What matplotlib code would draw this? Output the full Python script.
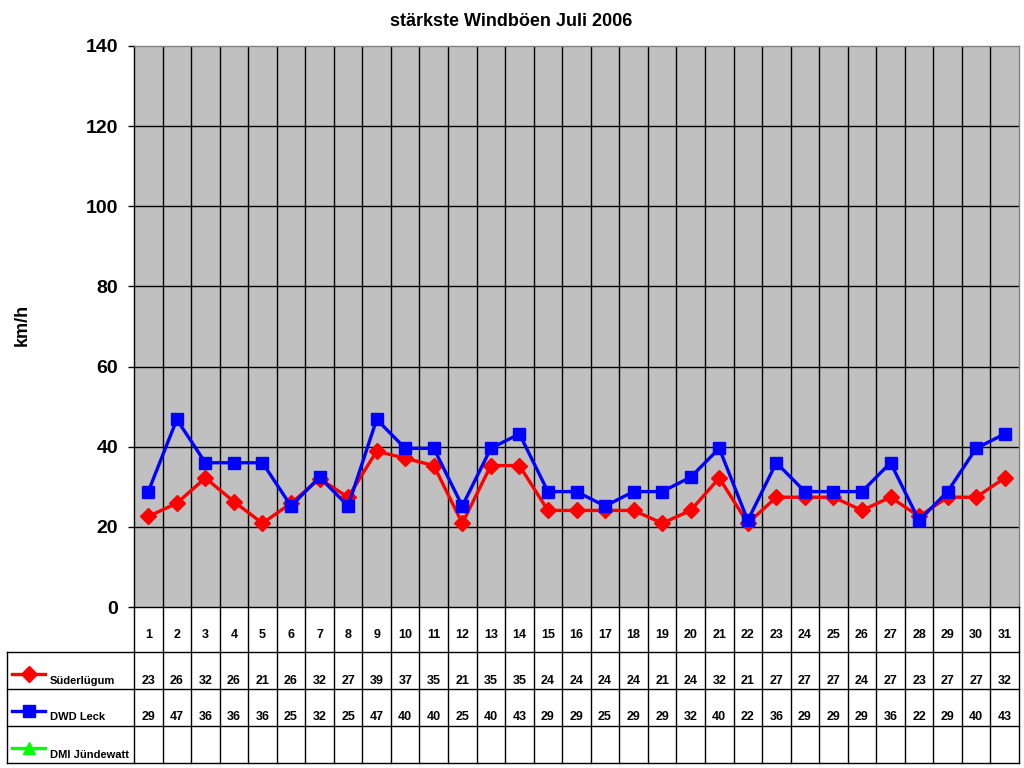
import numpy as np
import matplotlib
matplotlib.use("Agg")
import matplotlib.pyplot as plt
from matplotlib.lines import Line2D
from matplotlib.transforms import blended_transform_factory

plt.rcParams['font.family'] = ['Liberation Sans', 'DejaVu Sans']

title = "stärkste Windböen Juli 2006"
ylabel = "km/h"
days = list(range(1, 32))
series_names = ["Süderlügum", "DWD Leck", "DMI Jündewatt"]
series_colors = ["#FF0000", "#0000FF", "#00FF00"]
series_markers = ["D", "s", "^"]

suederluegum = [22.6, 25.9, 32.2, 26.3, 20.9, 25.9, 32.0, 27.4, 38.9, 37.1, 35.3, 20.9, 35.3, 35.3, 24.1, 24.1,
                24.1, 24.1, 20.9, 24.1, 32.2, 20.9, 27.4, 27.4, 27.4, 24.1, 27.4, 22.6, 27.4, 27.4, 32.2]
dwd_leck = [28.8, 46.8, 36.0, 36.0, 36.0, 25.2, 32.4, 25.2, 46.8, 39.6, 39.6, 25.2, 39.6, 43.2, 28.8, 28.8,
            25.2, 28.8, 28.8, 32.4, 39.6, 21.6, 36.0, 28.8, 28.8, 28.8, 36.0, 21.6, 28.8, 39.6, 43.2]
dmi_juendewatt = [None] * 31

sued_labels = [23, 26, 32, 26, 21, 26, 32, 27, 39, 37, 35, 21, 35, 35, 24, 24, 24, 24, 21, 24, 32, 21,
               27, 27, 27, 24, 27, 23, 27, 27, 32]
dwd_labels = [29, 47, 36, 36, 36, 25, 32, 25, 47, 40, 40, 25, 40, 43, 29, 29, 25, 29, 29, 32, 40, 22,
              36, 29, 29, 29, 36, 22, 29, 40, 43]
dmi_labels = [None] * 31

yticks = [0, 20, 40, 60, 80, 100, 120, 140]

W, H = 1024, 768
fig = plt.figure(figsize=(W / 100, H / 100), dpi=100)
fig.patch.set_facecolor("white")

L, R, T, B = 134, 1019, 46, 607
ax = fig.add_axes([L / W, 1 - B / H, (R - L) / W, (B - T) / H])
ax.set_facecolor("#C0C0C0")
ax.set_xlim(0.5, 31.5)
ax.set_ylim(0, 140)
ax.set_yticks(yticks)
ax.set_yticklabels([str(v) for v in yticks], fontsize=14, fontweight="bold")
ax.tick_params(axis="y", direction="out", length=4.32, width=1, pad=7.2, color="black")
ax.set_xticks([])
for y in yticks[1:-1]:
    ax.axhline(y, color="black", lw=1.0, zorder=1)
for d in days[:-1]:
    ax.axvline(d + 0.5, color="black", lw=1.0, zorder=1)
ax.spines["left"].set_color("black")
ax.spines["bottom"].set_color("black")
ax.spines["top"].set_color("#808080")
ax.spines["right"].set_color("#808080")
for s in ax.spines.values():
    s.set_linewidth(1.0)

data = [suederluegum, dwd_leck, dmi_juendewatt]
for vals, c, m in zip(data, series_colors, series_markers):
    v = np.array([np.nan if x is None else x for x in vals], dtype=float)
    ax.plot(days, v, color=c, lw=2.4, marker=m, markersize=8 if m == "s" else 8.5,
            markeredgecolor=c, markerfacecolor=c, zorder=3, clip_on=False)


def fy(py):
    return 1 - py / H


fig.text(22 / W, fy(325), ylabel, rotation=90, ha="center", va="center", fontsize=13, fontweight="bold")
fig.text(511 / W, fy(21), title, ha="center", va="center", fontsize=13, fontweight="bold")

# data table below
bt = blended_transform_factory(ax.transData, fig.transFigure)
ft = fig.transFigure
rows_y = [607, 652, 689, 726, 763]


def hline(x0, x1, py, trans):
    fig.add_artist(Line2D([x0, x1], [fy(py), fy(py)], color="black", lw=1.0, transform=trans))


def vline(x, py0, py1, trans):
    fig.add_artist(Line2D([x, x], [fy(py0), fy(py1)], color="black", lw=1.0, transform=trans))


for py in rows_y[1:]:
    hline(7 / W, R / W, py, ft)
vline(7 / W, 652, 763, ft)
vline(L / W, 607, 763, ft)
for d in days[:-1]:
    vline(d + 0.5, 607, 763, bt)
vline(R / W, 607, 763, ft)

for d in days:
    fig.text(d, fy(635), str(d), transform=bt, ha="center", va="center", fontsize=9, fontweight="bold")

label_rows = [sued_labels, dwd_labels, dmi_labels]
text_y = [680.5, 717.5, 754.5]
marker_y = [674, 711, 748]
for labs, ty, my, name, c, m in zip(label_rows, text_y, marker_y, series_names, series_colors, series_markers):
    for d, lab in zip(days, labs):
        if lab is not None:
            fig.text(d, fy(ty), str(lab), transform=bt, ha="center", va="center", fontsize=9, fontweight="bold")
    fig.add_artist(Line2D([12 / W, 45 / W], [fy(my), fy(my)], color=c, lw=2.4, transform=ft))
    fig.add_artist(Line2D([28.5 / W], [fy(my)], color=c, marker=m, markersize=8 if m == "s" else 8.5,
                          markeredgecolor=c, markerfacecolor=c, transform=ft))
    fig.text(50 / W, fy(ty), name, transform=ft, ha="left", va="center", fontsize=8, fontweight="bold")

fig.savefig("out.png", dpi=100)
